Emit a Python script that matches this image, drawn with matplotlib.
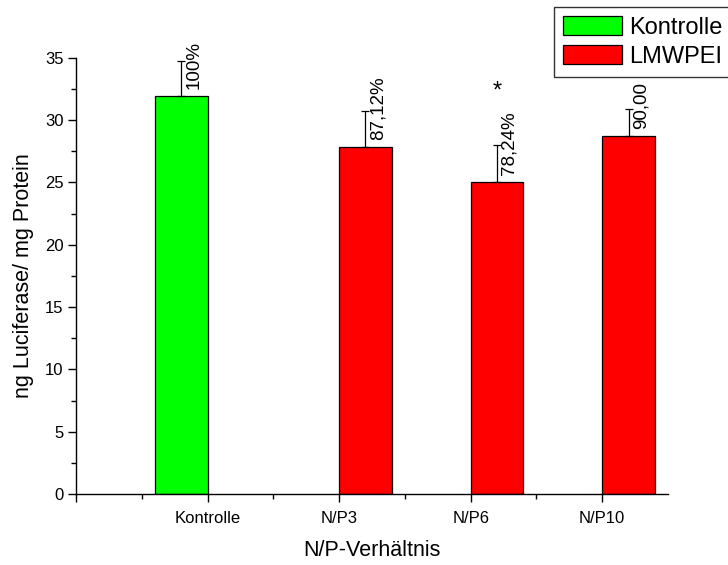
import numpy as np
import matplotlib
matplotlib.use("Agg")
import matplotlib.pyplot as plt
from matplotlib.ticker import MultipleLocator, FixedLocator

plt.rcParams['font.family'] = ['Liberation Sans', 'DejaVu Sans']

# Data: luciferase expression per group
categories = ['Kontrolle', 'N/P3', 'N/P6', 'N/P10']
control_value = [31.94]
control_err = [2.76]
lmwpei_percent = [87.12, 78.24, 90.00]
lmwpei_err = [2.93, 3.00, 2.12]
control_labels = ['100%']
lmwpei_labels = ['87,12%', '78,24%', '90,00']
significant = ['N/P6']

lmwpei_values = [control_value[0] * p / 100.0 for p in lmwpei_percent]

W, H = 728, 565
fig = plt.figure(figsize=(W / 100, H / 100), dpi=100)
ax = fig.add_axes([76 / W, 1 - 494 / H, (668 - 76) / W, (494 - 57.7) / H])

bar_w = 0.4
pos = np.arange(1, len(categories) + 1)
ctrl_x = pos[:1] - bar_w / 2
lmw_x = pos[1:] + bar_w / 2

ax.bar(ctrl_x, control_value, width=bar_w, color='#00ff00', edgecolor='black',
       linewidth=0.9, label='Kontrolle', zorder=2)
ax.bar(lmw_x, lmwpei_values, width=bar_w, color='#ff0000', edgecolor='black',
       linewidth=0.9, label='LMWPEI', zorder=2)

ax.errorbar(ctrl_x, control_value, yerr=[[0] * len(control_err), control_err],
            fmt='none', ecolor='black', elinewidth=0.9, capsize=3, capthick=0.9, zorder=3)
ax.errorbar(lmw_x, lmwpei_values, yerr=[[0] * len(lmwpei_err), lmwpei_err],
            fmt='none', ecolor='black', elinewidth=0.9, capsize=3, capthick=0.9, zorder=3)

for xs, vals, labs in [(ctrl_x, control_value, control_labels),
                       (lmw_x, lmwpei_values, lmwpei_labels)]:
    for x, v, t in zip(xs, vals, labs):
        ax.annotate(t, xy=(x, v), xytext=(4, 7), textcoords='offset pixels',
                    rotation=90, ha='left', va='bottom', fontsize=13.5)

for name in significant:
    i = categories.index(name)
    ax.text(lmw_x[i - 1], 32.3, '*', ha='center', va='center', fontsize=17)

ax.set_xlim(0, 4.5)
ax.set_ylim(0, 35)

ax.xaxis.set_major_locator(FixedLocator([0] + list(pos)))
ax.set_xticklabels([''] + categories, fontsize=12)
ax.xaxis.set_minor_locator(FixedLocator(list(pos - 0.5)))
ax.yaxis.set_major_locator(MultipleLocator(5))
ax.yaxis.set_minor_locator(MultipleLocator(2.5))
ax.tick_params(axis='y', labelsize=12)

ax.tick_params(which='major', direction='out', length=6, width=1.0, color='black')
ax.tick_params(which='minor', direction='out', length=3.5, width=1.0, color='black')
ax.tick_params(axis='x', which='major', pad=6.5)
ax.tick_params(axis='y', which='major', pad=3)

for s in ['top', 'right']:
    ax.spines[s].set_visible(False)
for s in ['left', 'bottom']:
    ax.spines[s].set_linewidth(1.0)

ax.set_xlabel('N/P-Verhältnis', fontsize=15.5, labelpad=10)
ax.set_ylabel('ng Luciferase/ mg Protein', fontsize=15.5, labelpad=8)

leg = fig.legend(loc='upper left', bbox_to_anchor=(554 / W, 1 - 7 / H),
                 fontsize=17, frameon=True, fancybox=False, edgecolor='black',
                 handlelength=2.5, handleheight=0.85, handletextpad=0.3,
                 borderpad=0.4, labelspacing=0.25, borderaxespad=0)
leg.get_frame().set_linewidth(1.0)

fig.savefig('out.png', dpi=100)
